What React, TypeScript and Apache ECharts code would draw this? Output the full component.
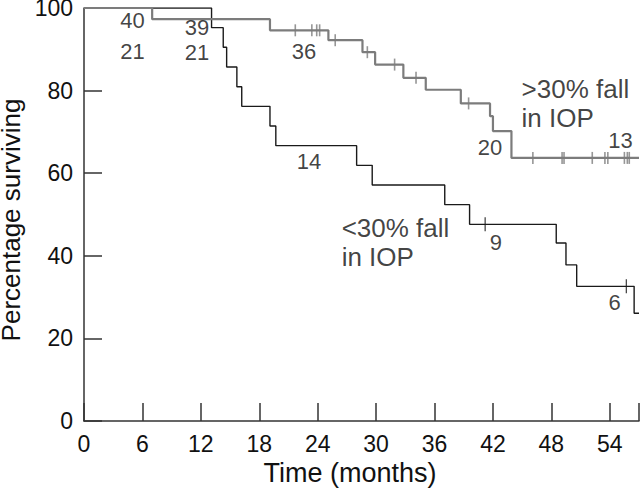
import React, { useEffect, useRef } from "react";
import * as echarts from "echarts";

// Kaplan-Meier curve: >30% fall in IOP (grey)
const greyTimes = [0, 7.0, 19.1, 25.1, 28.6, 29.9, 32.8, 35.1, 38.7, 41.7, 42.0, 43.9, 57];
const greyPct = [100, 97.3, 94.6, 92.2, 89.3, 86.3, 83.1, 80.2, 76.9, 73.8, 70.2, 63.7, 63.7];
const greyCensorTimes = [21.7, 23.4, 23.9, 24.2, 25.8, 29.1, 31.9, 34.1, 39.5, 46.1, 49.1, 49.3, 52.2, 53.5, 53.8, 55.5, 55.8, 56.0];
const greyCensorPct = [94.6, 94.6, 94.6, 94.6, 92.2, 89.3, 86.3, 83.1, 76.9, 63.7, 63.7, 63.7, 63.7, 63.7, 63.7, 63.7, 63.7, 63.7];

// Kaplan-Meier curve: <30% fall in IOP (black)
const blackTimes = [0, 13.1, 14.3, 14.65, 15.7, 16.2, 19.1, 19.7, 28.0, 29.6, 37.05, 39.6, 48.5, 49.5, 50.6, 56.5, 57];
const blackPct = [100, 95.24, 90.48, 85.71, 80.95, 76.19, 71.43, 66.67, 61.9, 57.14, 52.38, 47.62, 43.1, 37.8, 32.6, 26.1, 26.1];
const blackCensorTimes = [41.2, 55.7];
const blackCensorPct = [47.62, 32.6];

// Numbers at risk annotations
const riskLabels = ["40", "21", "39", "21", "36", "14", "20", "13", "9", "6"];
const riskX = [4.98, 4.98, 11.6, 11.6, 22.6, 23.1, 41.7, 55.1, 42.3, 54.5];
const riskY = [96.9, 89.4, 95.3, 89.3, 89.4, 62.9, 66.3, 68.0, 43.3, 28.6];

// Group labels
const groupLabels = [">30% fall\nin IOP", "<30% fall\nin IOP"];
const groupX = [44.94, 26.46];
const groupY = [76.8, 43.1];

const xTicks = [0, 6, 12, 18, 24, 30, 36, 42, 48, 54];

const FONT = "'Liberation Sans', Arial, Helvetica, sans-serif";
const AXIS_COLOR = "#333333";
const GREY = "#7c7c7c";
const BLACK = "#1a1a1a";

export default function App() {
  const ref = useRef<HTMLDivElement>(null);

  useEffect(() => {
    document.body.style.margin = "0";
    if (!ref.current) return;
    const chart = echarts.init(ref.current, undefined, { renderer: "svg" });

    const axisCommon = {
      type: "value" as const,
      axisLine: { show: true, lineStyle: { color: AXIS_COLOR, width: 1.5 } },
      axisTick: { show: true, inside: true, length: 18, lineStyle: { color: AXIS_COLOR, width: 1.5 } },
      splitLine: { show: false },
      nameLocation: "middle" as const,
    };

    chart.setOption({
      animation: false,
      backgroundColor: "#ffffff",
      textStyle: { fontFamily: FONT },
      grid: { left: 84, right: 1, top: 8, bottom: 70, containLabel: false, outerBoundsMode: "none" },
      xAxis: {
        ...axisCommon,
        min: 0,
        max: 57,
        interval: 6,
        name: "Time (months)",
        nameGap: 32,
        nameTextStyle: { fontSize: 27, color: "#111", fontFamily: FONT, padding: [0, 23, 0, 0] },
        axisLabel: {
          fontSize: 23,
          color: "#111",
          fontFamily: FONT,
          margin: 11,
          formatter: (v: number) => (xTicks.indexOf(v) >= 0 ? String(v) : ""),
        },
      },
      yAxis: {
        ...axisCommon,
        min: 0,
        max: 100,
        interval: 20,
        name: "Percentage surviving",
        nameGap: 52,
        nameTextStyle: { fontSize: 26, color: "#111", fontFamily: FONT, padding: [0, 11, 0, 0] },
        axisLabel: { fontSize: 23, color: "#111", fontFamily: FONT, margin: 11 },
      },
      series: [
        {
          type: "line",
          step: "end",
          showSymbol: false,
          data: blackTimes.map((t, i) => [t, blackPct[i]]),
          lineStyle: { color: BLACK, width: 1.4 },
          z: 2,
        },
        {
          type: "line",
          step: "end",
          showSymbol: false,
          data: greyTimes.map((t, i) => [t, greyPct[i]]),
          lineStyle: { color: GREY, width: 2.2 },
          z: 3,
        },
        {
          type: "scatter",
          symbol: "rect",
          symbolSize: [1.6, 12],
          data: greyCensorTimes.map((t, i) => [t, greyCensorPct[i]]),
          itemStyle: { color: GREY },
          z: 4,
        },
        {
          type: "scatter",
          symbol: "rect",
          symbolSize: [1.3, 14],
          data: blackCensorTimes.map((t, i) => [t, blackCensorPct[i]]),
          itemStyle: { color: BLACK },
          z: 4,
        },
        {
          type: "scatter",
          symbolSize: 0,
          silent: true,
          data: riskLabels.map((l, i) => ({ value: [riskX[i], riskY[i]], name: l })),
          label: {
            show: true,
            position: "inside",
            formatter: (p: any) => p.name,
            fontSize: 22,
            color: "#111",
            fontFamily: FONT,
          },
          z: 5,
        },
        {
          type: "scatter",
          symbolSize: 0,
          silent: true,
          data: groupLabels.map((l, i) => ({ value: [groupX[i], groupY[i]], name: l })),
          label: {
            show: true,
            position: [0, 0],
            align: "left",
            verticalAlign: "middle",
            formatter: (p: any) => p.name,
            fontSize: 26,
            lineHeight: 29,
            color: "#111",
            fontFamily: FONT,
          },
          z: 5,
        },
      ],
    });

    return () => chart.dispose();
  }, []);

  return <div ref={ref} style={{ width: 640, height: 491 }} />;
}
